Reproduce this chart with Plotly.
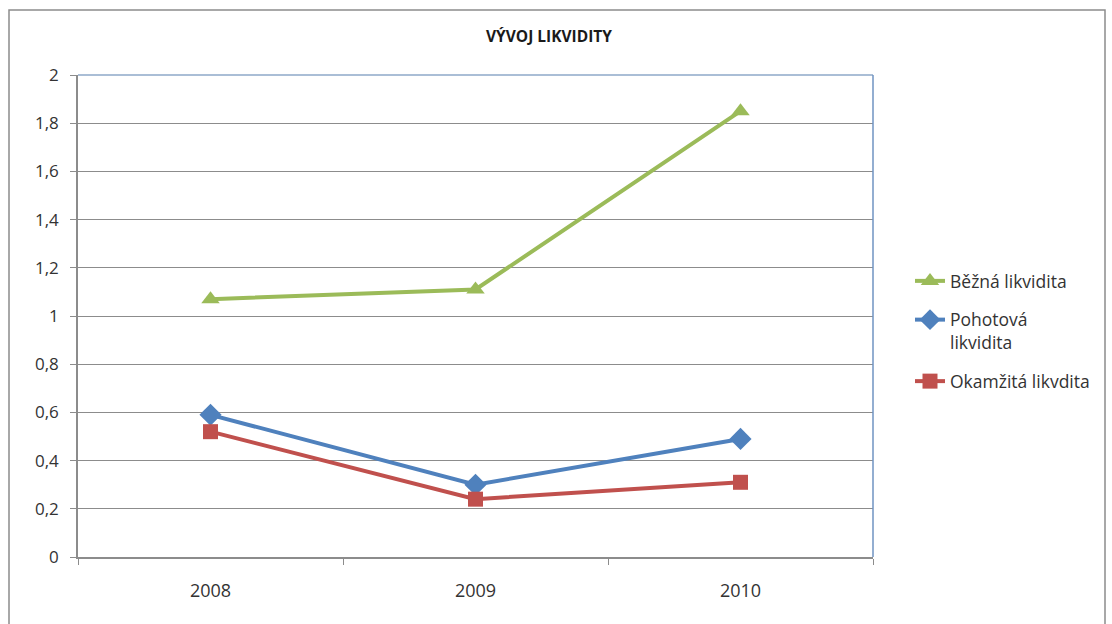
import plotly.graph_objects as go

# Liquidity ratios by year
years = ["2008", "2009", "2010"]
bezna = [1.07, 1.11, 1.85]       # Běžná likvidita
pohotova = [0.59, 0.30, 0.49]    # Pohotová likvidita
okamzita = [0.52, 0.24, 0.31]    # Okamžitá likvidita
y_ticks = [0, 0.2, 0.4, 0.6, 0.8, 1.0, 1.2, 1.4, 1.6, 1.8, 2.0]

FONT = "'Open Sans', Lato, sans-serif"
W, H = 1112, 624
L, R, T, B = 78, 873, 75, 557  # plot area in pixels

fig = go.Figure()

series = [
    ("Běžná likvidita", bezna, "#9BBB59", "triangle-up", 16),
    ("Pohotová<br>likvidita", pohotova, "#4F81BD", "diamond", 17),
    ("Okamžitá likvdita", okamzita, "#C0504D", "square", 15),
]
for i, (name, vals, color, sym, size) in enumerate(series):
    fig.add_trace(go.Scatter(
        x=years, y=vals, name=name, mode="lines+markers",
        line=dict(color=color, width=4),
        marker=dict(symbol=sym, size=size, color=color),
        legendgroup=f"g{i}",
    ))

# pixel -> paper coordinate helpers
def px_x(x):
    return (x - L) / (R - L)

def px_y(y):
    return (B - y) / (B - T)

# outer chart frame
fig.add_shape(type="rect", xref="paper", yref="paper",
              x0=px_x(9), x1=px_x(1105), y0=px_y(640), y1=px_y(10),
              line=dict(color="#8c8c8c", width=1.5), layer="below")
# plot area border (top and right)
fig.add_shape(type="line", xref="paper", yref="paper", x0=0, x1=1, y0=1, y1=1,
              line=dict(color="#8EA9C9", width=1.5))
fig.add_shape(type="line", xref="paper", yref="paper", x0=1, x1=1, y0=0, y1=1,
              line=dict(color="#6F93C2", width=1.5))

fig.update_layout(
    width=W, height=H,
    margin=dict(l=L, r=W - R, t=T, b=H - B),
    paper_bgcolor="white", plot_bgcolor="white",
    separators=", ",
    font=dict(family=FONT, size=18, color="#333333"),
    title=dict(text="<b>VÝVOJ LIKVIDITY</b>", x=px_x(549), xanchor="center",
               xref="paper", y=1 - 37 / H, yanchor="middle",
               font=dict(family=FONT, size=15.5, color="#1a1a1a")),
    showlegend=True,
    legend=dict(x=px_x(910), xanchor="left", y=px_y(263), yanchor="top",
                font=dict(family=FONT, size=17.5, color="#333333"),
                traceorder="grouped", tracegroupgap=13, valign="top",
                bgcolor="rgba(0,0,0,0)"),
    xaxis=dict(type="category", showgrid=False, showline=True,
               linecolor="#8c8c8c", linewidth=1.5, ticks="outside",
               tickson="boundaries", ticklen=6, tickcolor="#8c8c8c",
               ticklabelstandoff=17, range=[-0.5, 2.5]),
    yaxis=dict(range=[0, 2], tickvals=y_ticks, showgrid=True,
               gridcolor="#8c8c8c", gridwidth=1.2, showline=True,
               linecolor="#8c8c8c", linewidth=1.5, ticks="outside",
               ticklen=6, tickcolor="#8c8c8c", ticklabelstandoff=8,
               zeroline=False, tickfont=dict(size=17)),
)

fig.write_html("out.html")
